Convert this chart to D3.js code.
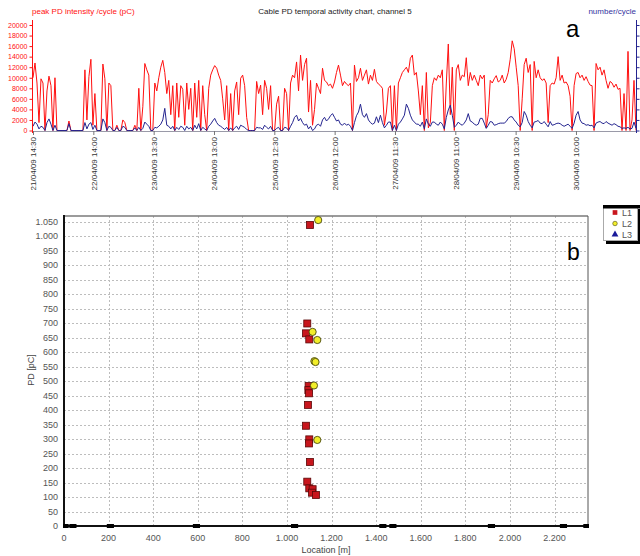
<!DOCTYPE html>
<html>
<head>
<meta charset="utf-8">
<script src="https://cdn.jsdelivr.net/npm/d3@7"></script>
<style>
  body { margin: 0; background: #fff; }
  svg { display: block; font-family: "Liberation Sans", Arial, sans-serif; }
</style>
</head>
<body>
<script>
// chart a: temporal activity, one sample every 2800 s
const startTime = "21/04/09 14:30";
const sampleSeconds = 2800;

// peak PD intensity per cycle (pC)
const peakPD = [
  10000,12800,9000,1500,9800,9000,0,7500,10300,8500,0,10000,0,0,0,0,0,0,1800,0,
  0,0,0,0,0,0,11500,2000,10200,13500,1000,7000,0,0,0,12600,9800,0,9000,8500,
  0,0,1000,0,0,2000,1500,0,0,0,0,1000,0,8000,0,4500,12700,11500,10500,0,
  0,9000,7500,10000,12000,13300,11000,7000,9500,3000,8500,0,9000,2500,8500,7800,1000,9000,4000,8000,
  0,9000,2500,9500,0,8500,3000,0,8000,10500,11500,12300,11800,10500,9500,6000,2000,8500,0,7000,
  0,7500,9200,3000,9900,10500,8500,2500,0,0,0,0,9300,7000,8600,3000,9500,8000,4000,8500,
  0,0,5000,6500,0,0,8000,7000,0,9000,10500,10000,13000,7500,14300,9500,12500,13700,3500,9500,
  1000,4000,9000,8000,7000,11800,9500,9200,8500,8800,8000,9200,11000,12400,10500,8500,9300,8800,8500,9000,
  0,12400,9300,10000,11800,9500,10500,11500,8800,10500,9500,11600,9300,8800,8500,8000,1000,3500,8000,8500,
  0,8500,0,9000,10000,11000,11500,12000,11000,13700,14300,10500,11000,7500,3000,8500,0,11000,500,1500,
  8500,10000,9500,10500,10000,11500,0,9000,16400,3000,12000,0,11500,12500,9500,10500,10200,13800,8500,11000,
  9500,10500,9500,8500,10500,9800,10500,500,3000,9500,9000,9800,10400,9200,9500,10500,9000,9700,11000,13500,
  17000,15500,12000,8500,0,6000,12500,13700,11000,12500,0,13100,10000,11500,10000,9500,9800,9000,1500,8500,
  9000,8800,10000,14000,9500,10500,9000,9200,8500,6500,0,8500,10800,11000,10000,10500,9500,10200,9300,8600,
  8500,0,12700,11500,12000,10500,11500,9500,8000,9300,9000,8200,8800,7800,8000,0,7000,0,15000,0,
  2000,9500,0
];

// number of pulses per cycle
const numberPerCycle = [
  0.8,1.6,1.2,0.3,0.8,0.6,0,1.5,2.2,1.2,0,1.0,0,0,0,0,0,0,1.3,0,
  0,0,0,0,0,0,1.5,0.3,1.2,1.5,0.2,1.0,0,0,0,2.2,1.5,0,0.8,0.6,
  0,0,0.6,0,0,0.8,0.6,0,0,0,0,0.5,0,0.6,0,0.4,1.6,1.2,0.8,0,
  0,0.6,0.5,0.8,1.2,2.0,4.2,1.0,0.8,0.3,0.8,0,0.6,0.2,0.8,0.6,0,0.8,0.3,0.6,
  0,1.0,0.3,1.3,0,0.6,0.3,0,0.8,1.2,1.8,2.3,1.5,1.0,0.8,0.5,0.2,0.6,0,0.5,
  0,0.5,0.8,0.2,1.0,0.8,0.6,0.2,0,0,0,0,0.6,0.5,0.5,0.2,1.0,0.6,0.3,0.8,
  0,0,0.4,0.6,0,0,0.6,0.5,0,0.8,1.5,2.5,2.9,1.8,2.3,1.5,1.0,1.2,0.3,0.8,
  0,0.3,1.0,1.2,0.8,2.0,2.5,1.8,2.2,2.8,3.2,2.5,1.8,2.0,1.2,1.0,1.4,1.0,1.2,0.8,
  0,1.5,2.8,3.5,5.0,3.0,2.5,3.2,2.0,1.5,1.2,1.4,2.6,1.5,2.9,1.5,0.5,1.0,1.6,1.6,
  0,1.0,0,1.2,1.6,2.2,2.9,5.0,4.2,2.9,2.0,1.6,1.2,1.2,0.8,1.6,0.3,2.2,1.2,0.8,
  1.6,1.6,1.2,1.0,1.6,1.2,0.3,2.5,3.9,4.8,2.9,0.6,1.0,1.6,1.2,1.0,1.4,2.0,3.2,1.8,
  1.6,1.2,1.0,1.2,2.3,2.3,1.4,0.4,1.0,1.7,1.6,1.0,1.1,1.3,1.4,1.4,1.4,1.7,2.3,2.6,
  2.6,2.0,1.6,1.0,0.7,1.5,3.6,2.9,1.7,1.0,0.5,1.6,1.7,1.9,1.4,1.3,1.7,1.2,0.7,1.7,
  1.0,1.1,1.3,1.4,1.3,1.0,0.8,1.0,1.2,0.8,0.4,1.4,2.9,3.6,2.0,1.4,1.3,1.0,1.1,0.9,
  1.0,0.5,1.4,1.6,1.7,1.4,1.3,1.7,1.4,1.2,1.0,1.3,1.1,0.8,0.7,0.4,0.5,0.4,0.6,0.3,
  0.4,1.6,0.4
];

const timeTickLabels = [
  "21/04/09 14:30", "22/04/09 14:00", "23/04/09 13:30", "24/04/09 13:00", "25/04/09 12:30",
  "26/04/09 12:00", "27/04/09 11:30", "28/04/09 11:00", "29/04/09 10:30", "30/04/09 10:00"
];
const peakTicks = [0, 2000, 4000, 6000, 8000, 10000, 12000, 14000, 16000, 18000, 20000];
const numberTicks = [0, 2, 4, 6, 8, 10, 12, 14, 16, 18, 20];

// chart b: PD location map, [location (m), PD (pC)]
const l1Points = [
  [1103, 1039], [1091, 699], [1085, 665], [1100, 644], [1097, 483], [1096, 469],
  [1099, 458], [1094, 418], [1085, 346], [1100, 299], [1099, 285], [1103, 221],
  [1091, 153], [1100, 130], [1115, 127], [1112, 115], [1130, 107]
];
const l2Points = [
  [1140, 1056], [1115, 670], [1136, 642], [1123, 569], [1128, 566], [1121, 485], [1136, 297]
];
const l3Points = [];
const joints = [5, 40, 208, 594, 1034, 1430, 1475, 1917, 2240, 2345];
const locationTicks = [0, 200, 400, 600, 800, 1000, 1200, 1400, 1600, 1800, 2000, 2200];
const pdTicks = d3.range(0, 1051, 50);
const legendLabels = ["L1", "L2", "L3"];

const width = 640, height = 556;
const red = "#ff1010", navy = "#24248f";

const svg = d3.select("body").append("svg")
  .attr("width", width)
  .attr("height", height);
svg.append("rect").attr("width", width).attr("height", height).attr("fill", "#fff");

// ---------- chart a ----------
const parseTime = d3.timeParse("%d/%m/%y %H:%M");
const t0 = parseTime(startTime);
const series = peakPD.map((v, i) => ({
  t: new Date(+t0 + i * sampleSeconds * 1000),
  peak: v,
  num: numberPerCycle[i],
}));

const xa = d3.scaleTime()
  .domain([t0, series[series.length - 1].t])
  .range([33, 636]);
const yPeak = d3.scaleLinear([0, 20000], [130.5, 25]);
const yNum = d3.scaleLinear([0, 20], [130.5, 25]);

svg.append("clipPath").attr("id", "clipA")
  .append("rect").attr("x", 33).attr("y", 15).attr("width", 604).attr("height", 117);

// baseline + time axis
svg.append("line")
  .attr("x1", 33).attr("x2", 636).attr("y1", 131.5).attr("y2", 131.5)
  .attr("stroke", "#9a9aa8").attr("stroke-width", 1);

const gx = svg.append("g")
  .attr("transform", "translate(0,131)")
  .call(d3.axisBottom(xa)
    .tickValues(timeTickLabels.map(parseTime))
    .tickSize(4)
    .tickSizeOuter(0)
    .tickFormat(d3.timeFormat("%d/%m/%y %H:%M")));
gx.select(".domain").remove();
gx.selectAll("line").attr("stroke", "#777");
gx.selectAll("text")
  .attr("transform", "rotate(-90)")
  .attr("x", -6)
  .attr("y", 0)
  .attr("dy", "0.35em")
  .attr("text-anchor", "end")
  .attr("fill", "#333")
  .style("font-size", "8px");

// lines
const lineA = svg.append("g").attr("clip-path", "url(#clipA)");
lineA.append("path")
  .datum(series)
  .attr("fill", "none")
  .attr("stroke", red)
  .attr("stroke-width", 1)
  .attr("d", d3.line().x((d) => xa(d.t)).y((d) => yPeak(d.peak)));
lineA.append("path")
  .datum(series)
  .attr("fill", "none")
  .attr("stroke", navy)
  .attr("stroke-width", 1)
  .attr("d", d3.line().x((d) => xa(d.t)).y((d) => yNum(d.num)));

// left axis (red)
const gl = svg.append("g")
  .attr("transform", "translate(32.5,0)")
  .call(d3.axisLeft(yPeak).tickValues(peakTicks).tickSize(3).tickSizeOuter(0).tickFormat(d3.format("d")));
gl.select(".domain").remove();
gl.selectAll("line").attr("stroke", red);
gl.selectAll("text").attr("fill", red).attr("x", -5).style("font-size", "7px");
svg.append("line")
  .attr("x1", 32.5).attr("x2", 32.5).attr("y1", 20).attr("y2", 133)
  .attr("stroke", red);

// right axis (blue), labels fall outside the picture
const gr = svg.append("g")
  .attr("transform", "translate(636.5,0)")
  .call(d3.axisRight(yNum).tickValues(numberTicks).tickSize(3).tickSizeOuter(0).tickFormat(""));
gr.select(".domain").remove();
gr.selectAll("line").attr("stroke", navy);
svg.append("line")
  .attr("x1", 636.5).attr("x2", 636.5).attr("y1", 20).attr("y2", 133)
  .attr("stroke", navy);

svg.append("text")
  .attr("x", 32).attr("y", 14)
  .attr("fill", red)
  .style("font-size", "8px")
  .text("peak PD intensity /cycle (pC)");
svg.append("text")
  .attr("x", 335).attr("y", 14)
  .attr("text-anchor", "middle")
  .attr("fill", "#222")
  .style("font-size", "8px")
  .text("Cable PD temporal activity chart, channel 5");
svg.append("text")
  .attr("x", 636).attr("y", 14)
  .attr("text-anchor", "end")
  .attr("fill", "#3333a0")
  .style("font-size", "8px")
  .text("number/cycle");
svg.append("text")
  .attr("x", 566).attr("y", 37)
  .attr("fill", "#000")
  .style("font-size", "24px")
  .text("a");

// ---------- chart b ----------
const xb = d3.scaleLinear([0, 2350], [64, 588]);
const yb = d3.scaleLinear([0, 1070], [526, 216]);
const fmt = d3.formatLocale({ decimal: ",", thousands: ".", grouping: [3], currency: ["", ""] }).format(",d");

const grid = svg.append("g")
  .attr("stroke", "#bdbdbd")
  .attr("stroke-width", 1)
  .attr("stroke-dasharray", "2,2");
grid.selectAll(".v")
  .data(locationTicks.slice(1))
  .join("line")
  .attr("x1", (d) => Math.round(xb(d)) + 0.5)
  .attr("x2", (d) => Math.round(xb(d)) + 0.5)
  .attr("y1", 216).attr("y2", 526);
grid.selectAll(".h")
  .data(pdTicks.slice(1))
  .join("line")
  .attr("x1", 64).attr("x2", 588)
  .attr("y1", (d) => Math.round(yb(d)) + 0.5)
  .attr("y2", (d) => Math.round(yb(d)) + 0.5);

// frame
svg.append("line").attr("x1", 64).attr("x2", 588).attr("y1", 216).attr("y2", 216)
  .attr("stroke", "#7a7a7a").attr("stroke-width", 1.5);
svg.append("line").attr("x1", 588).attr("x2", 588).attr("y1", 216).attr("y2", 527)
  .attr("stroke", "#555").attr("stroke-width", 1);
svg.append("line").attr("x1", 64).attr("x2", 64).attr("y1", 215).attr("y2", 527)
  .attr("stroke", "#111").attr("stroke-width", 2);
svg.append("line").attr("x1", 63).attr("x2", 589).attr("y1", 526).attr("y2", 526)
  .attr("stroke", "#111").attr("stroke-width", 2);

// tick labels
svg.append("g")
  .selectAll("text")
  .data(pdTicks)
  .join("text")
  .attr("x", 58)
  .attr("y", (d) => yb(d))
  .attr("dy", "0.35em")
  .attr("text-anchor", "end")
  .attr("fill", "#555")
  .style("font-size", "9px")
  .text(fmt);
svg.append("g")
  .selectAll("text")
  .data(locationTicks)
  .join("text")
  .attr("x", (d) => xb(d))
  .attr("y", 541)
  .attr("text-anchor", "middle")
  .attr("fill", "#555")
  .style("font-size", "9px")
  .text(fmt);

svg.append("text")
  .attr("transform", "translate(34,370) rotate(-90)")
  .attr("text-anchor", "middle")
  .attr("fill", "#444")
  .style("font-size", "9px")
  .text("PD [pC]");
svg.append("text")
  .attr("x", 326).attr("y", 553)
  .attr("text-anchor", "middle")
  .attr("fill", "#444")
  .style("font-size", "9px")
  .text("Location [m]");

// joints on the cable axis
svg.append("clipPath").attr("id", "clipB")
  .append("rect").attr("x", 63).attr("y", 200).attr("width", 526).attr("height", 340);
svg.append("g")
  .attr("clip-path", "url(#clipB)")
  .selectAll("rect")
  .data(joints)
  .join("rect")
  .attr("x", (d) => xb(d - 16))
  .attr("y", 524)
  .attr("width", xb(32) - xb(0))
  .attr("height", 4)
  .attr("fill", "#000");

// points
svg.append("g")
  .selectAll("rect")
  .data(l1Points)
  .join("rect")
  .attr("x", (d) => xb(d[0]) - 3.5)
  .attr("y", (d) => yb(d[1]) - 3.5)
  .attr("width", 7)
  .attr("height", 7)
  .attr("fill", "#c8161d")
  .attr("stroke", "#5a0808")
  .attr("stroke-width", 0.8);
svg.append("g")
  .selectAll("circle")
  .data(l2Points)
  .join("circle")
  .attr("cx", (d) => xb(d[0]))
  .attr("cy", (d) => yb(d[1]))
  .attr("r", 3.6)
  .attr("fill", "#f2ee2a")
  .attr("stroke", "#4a4a10")
  .attr("stroke-width", 0.9);
svg.append("g")
  .selectAll("path")
  .data(l3Points)
  .join("path")
  .attr("transform", (d) => `translate(${xb(d[0])},${yb(d[1])})`)
  .attr("d", d3.symbol(d3.symbolTriangle, 30))
  .attr("fill", "#1a1a9a");

svg.append("text")
  .attr("x", 567).attr("y", 260)
  .attr("fill", "#000")
  .style("font-size", "23px")
  .text("b");

// legend
const lg = svg.append("g");
lg.append("rect").attr("x", 606).attr("y", 209).attr("width", 36).attr("height", 35).attr("fill", "#000");
lg.append("rect").attr("x", 603.5).attr("y", 206.5).attr("width", 34).attr("height", 34)
  .attr("fill", "#fff").attr("stroke", "#aaa");
const items = lg.selectAll("g")
  .data(legendLabels)
  .join("g")
  .attr("transform", (d, i) => `translate(615,${212.5 + i * 11})`);
items.append("path")
  .attr("d", (d, i) => d3.symbol([d3.symbolSquare, d3.symbolCircle, d3.symbolTriangle][i], [22, 16, 20][i])())
  .attr("fill", (d, i) => ["#c8161d", "#f2ee2a", "#1a1a9a"][i])
  .attr("stroke", (d, i) => (i === 1 ? "#4a4a10" : "none"))
  .attr("stroke-width", 0.6);
items.append("text")
  .attr("x", 7)
  .attr("dy", "0.35em")
  .attr("fill", "#555")
  .style("font-size", "9px")
  .text((d) => d);
lg.append("rect").attr("x", 603).attr("y", 205).attr("width", 37).attr("height", 3.5).attr("fill", "#000");
</script>
</body>
</html>
